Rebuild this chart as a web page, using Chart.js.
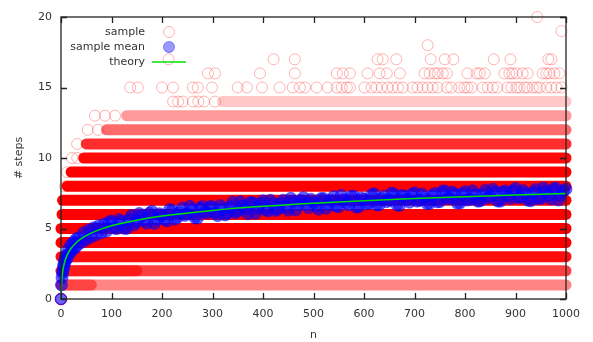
<!DOCTYPE html>
<html>
<head>
<meta charset="utf-8">
<script src="https://cdn.jsdelivr.net/npm/chart.js@4"></script>
<style>
  html, body { margin: 0; padding: 0; background: #fff; }
  #wrap { width: 593px; height: 342px; }
</style>
</head>
<body>
<div id="wrap"><canvas id="grafico"></canvas></div>
<script>
// franjas casi continuas de muestras (cada nivel entero de pasos)
const franjaNivel    = [1,    1,   2,    2,   3,    4,    5,    6,    7,    8,    9,    10,   11,   12,   13,   14];
const franjaDesde    = [0,    0,   0,    0,   0,    0,    0,    2,    3,    12,   20,   45,   50,   90,   130,  320];
const franjaHasta    = [1000, 60,  1000, 150, 1000, 1000, 1000, 1000, 1000, 1000, 1000, 1000, 1000, 1000, 1000, 1000];
const franjaDensidad = [0.48, 0.5, 0.75, 0.6, 0.95, 1,    1,    1,    1,    1,    1,    0.97, 0.82, 0.58, 0.4,  0.22];

// muestras sueltas por nivel (n)
const sueltas0  = [0, 0, 0, 0, 0, 0];
const sueltas8  = [8];
const sueltas9  = [12];
const sueltas10 = [22, 32];
const sueltas11 = [32];
const sueltas12 = [53, 73];
const sueltas13 = [67, 87, 107];
const sueltas14 = [222, 232, 241, 261, 272, 283, 305];
const sueltas15 = [137, 152, 200, 222, 261, 271, 299, 350, 368, 398, 433, 459, 473, 483, 506, 528, 546, 556, 566, 572,
                   601, 615, 625, 635, 647, 657, 667, 677, 696, 706, 716, 726, 736, 746, 764, 773, 789, 799, 805, 813,
                   835, 845, 855, 864, 884, 892, 902, 908, 918, 924, 934, 942, 948, 961, 971, 981, 991];
const sueltas16 = [291, 305, 394, 463, 546, 558, 572, 607, 631, 645, 671, 720, 730, 740, 746, 756, 764, 805, 823, 829,
                   839, 878, 888, 894, 902, 914, 924, 954, 961, 967, 977, 987];
const sueltas17 = [213, 421, 463, 627, 637, 664, 732, 760, 777, 857, 890, 965, 971];
const sueltas18 = [726];
const sueltas19 = [991];
const sueltas20 = [943];

// media de la muestra
const mediaN = [0, 1, 2, 3, 4, 5, 6, 7, 8, 9, 10, 12, 15, 17, 20, 22, 25, 27, 30, 32, 35, 40, 45, 50, 55, 60, 65, 70, 75, 80, 85, 90, 95,
  100, 110, 120, 130, 140, 150, 160, 170, 180, 190, 200, 210, 220, 230, 240, 250, 260, 270, 280, 290,
  300, 310, 320, 330, 340, 350, 360, 370, 380, 390, 400, 410, 420, 430, 440, 450, 460, 470, 480, 490,
  500, 510, 520, 530, 540, 550, 560, 570, 580, 590, 600, 610, 620, 630, 640, 650, 660, 670, 680, 690,
  700, 710, 720, 730, 740, 750, 760, 770, 780, 790, 800, 810, 820, 830, 840, 850, 860, 870, 880, 890,
  900, 910, 920, 930, 940, 950, 960, 970, 980, 990, 1000];
const mediaPasos = [0, 1.0, 1.5, 1.85, 2.0, 2.4, 2.3, 2.7, 2.6, 2.95, 3.1, 2.85, 3.55, 3.2, 3.85, 3.45, 4.05, 3.6, 4.25, 3.8, 4.35, 4.0, 4.7, 4.2, 4.9, 4.4, 5.05, 4.55, 5.2, 4.7, 5.3, 4.8, 5.45,
  5.54, 4.98, 5.47, 5.00, 5.92, 5.49, 5.90, 5.37, 6.22, 5.63, 5.93, 5.53, 6.27, 5.77, 6.46, 6.05, 6.34, 5.73, 6.56, 6.10,
  6.53, 5.91, 6.40, 6.08, 6.86, 6.24, 6.61, 6.04, 6.82, 6.44, 6.97, 6.24, 6.72, 6.39, 7.01, 6.29, 6.91, 6.68, 7.20, 6.47,
  6.84, 6.36, 7.13, 6.70, 7.27, 6.54, 7.06, 6.67, 7.29, 6.56, 7.07, 6.79, 7.46, 6.67, 7.29, 7.00, 7.42, 6.63, 7.30, 6.86,
  7.53, 6.99, 7.21, 6.77, 7.48, 6.90, 7.66, 7.12, 7.44, 6.80, 7.61, 7.07, 7.39, 6.95, 7.71, 7.27, 7.58, 6.94, 7.66, 7.12,
  7.83, 7.24, 7.50, 6.96, 7.77, 7.13, 7.64, 7.10, 7.86, 7.37, 7.79];
const mediaN2 = [105, 115, 125, 135, 145, 155, 165, 175, 185, 195, 205, 215, 225, 235, 245, 255, 265, 275, 285, 295,
  305, 315, 325, 335, 345, 355, 365, 375, 385, 395, 405, 415, 425, 435, 445, 455, 465, 475, 485, 495,
  505, 515, 525, 535, 545, 555, 565, 575, 585, 595, 605, 615, 625, 635, 645, 655, 665, 675, 685, 695,
  705, 715, 725, 735, 745, 755, 765, 775, 785, 795, 805, 815, 825, 835, 845, 855, 865, 875, 885, 895,
  905, 915, 925, 935, 945, 955, 965, 975, 985, 995];
const mediaPasos2 = [5.04, 5.63, 5.01, 5.64, 5.26, 6.07, 5.58, 6.09, 5.35, 6.05, 5.65, 6.35, 5.65, 6.14, 5.93, 6.57, 5.76, 6.44, 6.18, 6.56,
  6.10, 6.63, 5.96, 6.54, 6.12, 6.90, 6.38, 6.85, 6.08, 6.76, 6.33, 7.01, 6.28, 6.75, 6.53, 7.15, 6.32, 6.99, 6.71, 7.08,
  6.60, 7.12, 6.44, 7.01, 6.58, 7.35, 6.81, 7.28, 6.50, 7.17, 6.73, 7.40, 6.67, 7.13, 6.90, 7.51, 6.68, 7.34, 7.06, 7.42,
  6.94, 7.45, 6.76, 7.33, 6.89, 7.65, 7.12, 7.58, 6.79, 7.45, 7.02, 7.68, 6.94, 7.40, 7.16, 7.78, 6.94, 7.60, 7.31, 7.67,
  7.18, 7.69, 7.00, 7.56, 7.12, 7.88, 7.34, 7.81, 7.02, 7.68];

// curva teorica
const teoriaN = [0, 1, 2, 3, 4, 5, 7, 10, 15, 20, 30, 40, 50, 70, 100, 150, 200, 300, 400, 500, 600, 700, 800, 900, 1000];
const teoriaPasos = [0, 1, 1.5, 1.83, 2.08, 2.28, 2.59, 2.93, 3.32, 3.6, 3.99, 4.28, 4.5, 4.83, 5.19, 5.59, 5.88, 6.28, 6.57, 6.79, 6.97, 7.13, 7.26, 7.38, 7.49];

const ticksX = [0, 100, 200, 300, 400, 500, 600, 700, 800, 900, 1000];
const ticksY = [0, 5, 10, 15, 20];

const textoColor = '#333';
const fuente = { family: 'DejaVu Sans', size: 11 };

const sueltas = {
  0: sueltas0, 8: sueltas8, 9: sueltas9, 10: sueltas10, 11: sueltas11, 12: sueltas12, 13: sueltas13,
  14: sueltas14, 15: sueltas15, 16: sueltas16, 17: sueltas17, 18: sueltas18, 19: sueltas19, 20: sueltas20
};
const puntosMuestra = [];
for (const nivel in sueltas) {
  sueltas[nivel].forEach(n => puntosMuestra.push({ x: n, y: Number(nivel) }));
}

const puntosMedia = mediaN.map((n, i) => ({ x: n, y: mediaPasos[i] }))
  .concat(mediaN2.map((n, i) => ({ x: n, y: mediaPasos2[i] })));

const franjas = franjaNivel.map((nivel, i) => ({
  data: [{ x: franjaDesde[i], y: nivel }, { x: franjaHasta[i], y: nivel }],
  showLine: true,
  borderColor: `rgba(255, 0, 0, ${franjaDensidad[i]})`,
  borderWidth: 11,
  borderCapStyle: 'round',
  pointRadius: 0,
  clip: false,
  order: 3
}));

// marco, marcas hacia dentro y leyenda a la manera de gnuplot
const marcoYLeyenda = {
  id: 'marcoYLeyenda',
  afterDatasetsDraw(chart) {
    const { ctx, chartArea: a, scales: { x, y } } = chart;
    ctx.save();
    ctx.strokeStyle = '#222';
    ctx.lineWidth = 1.3;
    ctx.strokeRect(a.left, a.top, a.right - a.left, a.bottom - a.top);
    ctx.beginPath();
    ticksX.forEach(v => {
      const px = Math.round(x.getPixelForValue(v)) + 0.5;
      ctx.moveTo(px, a.bottom); ctx.lineTo(px, a.bottom - 6);
      ctx.moveTo(px, a.top); ctx.lineTo(px, a.top + 6);
    });
    ticksY.forEach(v => {
      const py = Math.round(y.getPixelForValue(v)) + 0.5;
      ctx.moveTo(a.left, py); ctx.lineTo(a.left + 6, py);
      ctx.moveTo(a.right, py); ctx.lineTo(a.right - 6, py);
    });
    ctx.stroke();

    const textoDer = a.left + 84;
    const simboloX = a.left + 108;
    const filas = [a.top + 15, a.top + 30, a.top + 45];
    ctx.font = '11px "DejaVu Sans"';
    ctx.fillStyle = textoColor;
    ctx.textAlign = 'right';
    ctx.textBaseline = 'middle';
    ['sample', 'sample mean', 'theory'].forEach((t, i) => ctx.fillText(t, textoDer, filas[i]));

    ctx.lineWidth = 1;
    ctx.strokeStyle = 'rgba(255, 0, 0, 0.3)';
    ctx.beginPath(); ctx.arc(simboloX, filas[0], 5.5, 0, Math.PI * 2); ctx.stroke();

    ctx.fillStyle = 'rgba(0, 0, 255, 0.4)';
    ctx.strokeStyle = 'rgba(0, 0, 220, 0.4)';
    ctx.beginPath(); ctx.arc(simboloX, filas[1], 5.5, 0, Math.PI * 2); ctx.fill(); ctx.stroke();

    ctx.strokeStyle = '#00e000';
    ctx.lineWidth = 1.5;
    ctx.beginPath(); ctx.moveTo(a.left + 91, filas[2]); ctx.lineTo(a.left + 125, filas[2]); ctx.stroke();
    ctx.restore();
  }
};

new Chart(document.getElementById('grafico'), {
  type: 'scatter',
  data: {
    datasets: [
      {
        label: 'theory',
        data: teoriaN.map((n, i) => ({ x: n, y: teoriaPasos[i] })),
        showLine: true,
        borderColor: '#00e000',
        borderWidth: 1.5,
        cubicInterpolationMode: 'monotone',
        pointRadius: 0,
        clip: false,
        order: 0
      },
      {
        label: 'sample mean',
        data: puntosMedia,
        backgroundColor: 'rgba(0, 0, 255, 0.6)',
        borderColor: 'rgba(0, 0, 255, 0.45)',
        borderWidth: 1,
        pointRadius: 6,
        clip: false,
        order: 1
      },
      {
        label: 'sample',
        data: puntosMuestra,
        backgroundColor: 'rgba(0, 0, 0, 0)',
        borderColor: 'rgba(255, 0, 0, 0.3)',
        borderWidth: 1,
        pointRadius: 5.5,
        clip: false,
        order: 2
      },
      ...franjas
    ]
  },
  options: {
    responsive: true,
    maintainAspectRatio: false,
    animation: false,
    events: [],
    layout: { padding: { top: 17, right: 27, left: 0, bottom: 0 } },
    plugins: {
      legend: { display: false },
      tooltip: { enabled: false }
    },
    scales: {
      x: {
        type: 'linear',
        min: 0,
        max: 1000,
        afterFit: s => { s.height = 43; },
        grid: { display: false, drawTicks: false },
        border: { display: false },
        ticks: { stepSize: 100, color: textoColor, font: fuente, padding: 9, maxRotation: 0, callback: v => String(v) },
        title: { display: true, text: 'n', color: textoColor, font: fuente, padding: { top: 0, bottom: 0 } }
      },
      y: {
        type: 'linear',
        min: 0,
        max: 20,
        afterFit: s => { s.width = 61; },
        grid: { display: false, drawTicks: false },
        border: { display: false },
        ticks: { stepSize: 5, color: textoColor, font: fuente, padding: 9, callback: v => String(v) },
        title: { display: true, text: '# steps', color: textoColor, font: fuente, padding: { top: 13, bottom: 0 } }
      }
    }
  },
  plugins: [marcoYLeyenda]
});
</script>
</body>
</html>
